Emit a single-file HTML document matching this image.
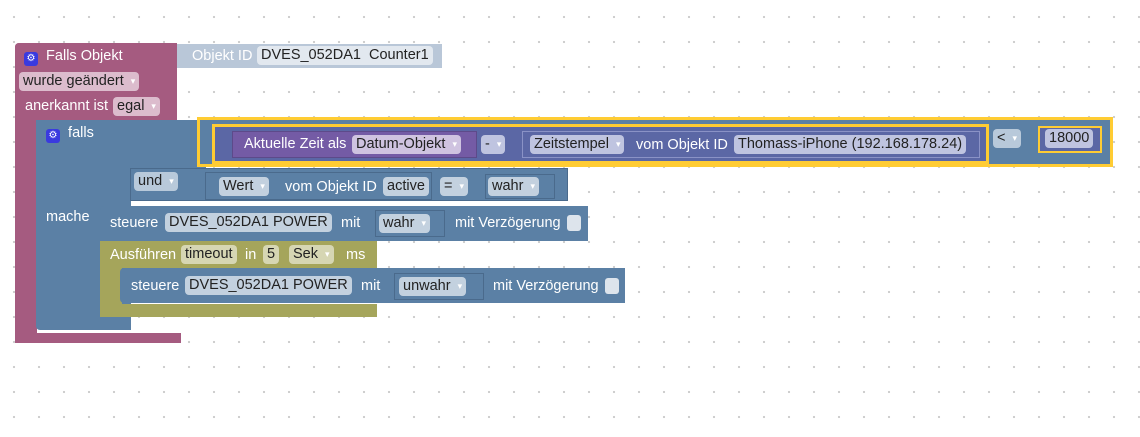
<!DOCTYPE html>
<html><head><meta charset="utf-8"><style>
body{margin:0;width:1140px;height:437px;overflow:hidden;background:#fff;
background-image:radial-gradient(circle,#ccc 1px,transparent 1.3px);background-size:25px 25px;background-position:1.5px 4.5px;
font-family:"Liberation Sans",Arial,sans-serif;font-size:14.5px;}
.a{position:absolute;box-sizing:border-box}
.t{position:absolute;color:#fff;white-space:nowrap;line-height:16px}
.f{position:absolute;height:19px;line-height:19px;border-radius:4px;padding:0 4px;color:#222;white-space:nowrap;background:rgba(255,255,255,.62)}
.dd:after{content:"▾";font-size:9px;color:#fff;margin-left:7px;vertical-align:1px}
.pk{background:#a55b80}.bl{background:#5b80a5}.ol{background:#a5a55b}.in{background:#5b67a5}.pu{background:#745ba5}
.gear{display:inline-block;width:14px;height:14px;background:#3a3adf;border-radius:3px;color:#fff;font-size:10px;text-align:center;line-height:14px;vertical-align:-1px}
</style></head><body>
<div class="a pk" style="left:15px;top:43px;width:162px;height:77px;border-radius:4px 0 0 0"></div>
<div class="a pk" style="left:15px;top:43px;width:22px;height:300px;border-radius:4px 0 0 6px"></div>
<div class="a pk" style="left:15px;top:333px;width:166px;height:10px"></div>
<div class="t" style="left:24px;top:48px"><span class="gear">⚙</span>&nbsp; Falls Objekt</div>
<div class="f dd" style="left:19px;top:72px;background:#dcbccd">wurde geändert</div>
<div class="t" style="left:25px;top:98px">anerkannt ist</div>
<div class="f dd" style="left:113px;top:97px;background:#dcbccd">egal</div>
<div class="a" style="left:177px;top:44px;width:265px;height:24px;background:#b9c7d8"></div>
<div class="t" style="left:192px;top:48px">Objekt ID</div>
<div class="f" style="left:257px;top:46px;background:#e2e8ef">DVES_052DA1 &nbsp;Counter1</div>
<div class="a bl" style="left:36px;top:120px;width:95px;height:210px;border-radius:4px 0 0 4px"></div>
<div class="a bl" style="left:36px;top:120px;width:170px;height:48px"></div>
<div class="a bl" style="left:130px;top:168px;width:438px;height:33px;border:1px solid #4a6a8c"></div>
<div class="t" style="left:46px;top:125px"><span class="gear">⚙</span>&nbsp; falls</div>
<div class="t" style="left:46px;top:209px">mache</div>
<div class="f dd" style="left:134px;top:172px;background:#b8c9da">und</div>
<div class="a bl" style="left:205px;top:172px;width:227px;height:28px;border:1px solid #4a6a8c"></div>
<div class="f dd" style="left:219px;top:177px;background:#c3d1df">Wert</div>
<div class="t" style="left:285px;top:179px">vom Objekt ID</div>
<div class="f" style="left:383px;top:177px;background:#c3d1df">active</div>
<div class="f dd" style="left:440px;top:177px;background:#c3d1df">=</div>
<div class="a bl" style="left:485px;top:174px;width:70px;height:25px;border:1px solid #4a6a8c"></div>
<div class="f dd" style="left:488px;top:177px;background:#c3d1df">wahr</div>
<div class="a bl" style="left:197px;top:117px;width:916px;height:50px;border:3px solid #fc3"></div>
<div class="a in" style="left:212px;top:124px;width:777px;height:40px;border:3px solid #fc3"></div>
<div class="a pu" style="left:232px;top:131px;width:245px;height:27px;border:1px solid #5d4a8a"></div>
<div class="t" style="left:244px;top:136px">Aktuelle Zeit als</div>
<div class="f dd" style="left:352px;top:135px;background:#cfc3e0">Datum-Objekt</div>
<div class="f dd" style="left:481px;top:135px;background:#bfc4e0">-</div>
<div class="a in" style="left:522px;top:131px;width:458px;height:27px;border:1px solid #8a92c6"></div>
<div class="f dd" style="left:530px;top:135px;background:#bfc4e0">Zeitstempel</div>
<div class="t" style="left:636px;top:137px">vom Objekt ID</div>
<div class="f" style="left:734px;top:135px;background:#bfc4e0">Thomass-iPhone (192.168.178.24)</div>
<div class="f dd" style="left:993px;top:129px;background:#b8c9da">&lt;</div>
<div class="a in" style="left:1038px;top:126px;width:64px;height:27px;border:2px solid #fc3"></div>
<div class="f" style="left:1045px;top:129px;background:#bfc4e0">18000</div>
<div class="a bl" style="left:100px;top:206px;width:488px;height:35px;border-radius:4px 0 0 0"></div>
<div class="t" style="left:110px;top:215px">steuere</div>
<div class="f" style="left:165px;top:213px;background:#c3d1df">DVES_052DA1 POWER</div>
<div class="t" style="left:341px;top:215px">mit</div>
<div class="a bl" style="left:375px;top:210px;width:70px;height:27px;border:1px solid #4a6a8c"></div>
<div class="f dd" style="left:379px;top:214px;background:#c3d1df">wahr</div>
<div class="t" style="left:455px;top:215px">mit Verzögerung</div>
<div class="a" style="left:567px;top:215px;width:14px;height:16px;background:#dde4ec;border-radius:3px"></div>
<div class="a ol" style="left:100px;top:241px;width:277px;height:27px"></div>
<div class="a ol" style="left:100px;top:241px;width:22px;height:76px;border-radius:0 0 0 4px"></div>
<div class="a ol" style="left:100px;top:304px;width:277px;height:13px"></div>
<div class="t" style="left:110px;top:247px">Ausführen</div>
<div class="f" style="left:181px;top:245px;background:#d6d6b3">timeout</div>
<div class="t" style="left:245px;top:247px">in</div>
<div class="f" style="left:263px;top:245px;background:#d6d6b3">5</div>
<div class="f dd" style="left:289px;top:245px;background:#d6d6b3">Sek</div>
<div class="t" style="left:346px;top:247px">ms</div>
<div class="a bl" style="left:120px;top:268px;width:505px;height:35px;border-radius:4px 0 0 4px"></div>
<div class="t" style="left:131px;top:278px">steuere</div>
<div class="f" style="left:185px;top:276px;background:#c3d1df">DVES_052DA1 POWER</div>
<div class="t" style="left:361px;top:278px">mit</div>
<div class="a bl" style="left:394px;top:273px;width:90px;height:27px;border:1px solid #4a6a8c"></div>
<div class="f dd" style="left:399px;top:277px;background:#c3d1df">unwahr</div>
<div class="t" style="left:493px;top:278px">mit Verzögerung</div>
<div class="a" style="left:605px;top:278px;width:14px;height:16px;background:#dde4ec;border-radius:3px"></div>
</body></html>
